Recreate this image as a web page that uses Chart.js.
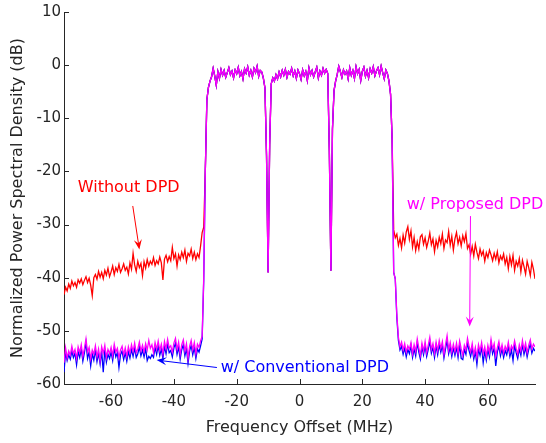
<!DOCTYPE html>
<html lang="en">
<head>
<meta charset="UTF-8">
<title>Normalized Power Spectral Density</title>
<style>
  html, body { margin: 0; padding: 0; background: #fff; }
  canvas { display: block; }
</style>
<script src="https://cdn.jsdelivr.net/npm/chart.js"></script>
</head>
<body>
<canvas id="psdChart" width="546" height="443"></canvas>
<script>
// frequency bins: -75 .. 75 MHz every 0.5 MHz (301 bins)
const freqs = [];
for (let i = -150; i <= 150; i++) freqs.push(i / 2);

const xTickValues = [-60, -40, -20, 0, 20, 40, 60];
const yTickValues = [-60, -50, -40, -30, -20, -10, 0, 10];

// passband -30 .. 29.5 MHz (120 bins), the three curves sit on top of each other here
const bandValues = [
  -20.0, -6.5, -4.2, -3.0, -2.2, -0.6, -2.0, -3.8, -1.2, -2.5,
  -0.8, -1.9, -1.0, -2.3, -1.4, -0.5, -1.8, -1.1, -2.4, -0.9,
  -1.6, -0.4, -2.0, -1.2, -2.6, -0.7, -1.5, -0.3, -1.9, -1.0,
  -2.2, -0.6, -1.4, -0.2, -2.1, -1.0, -1.3, -2.5, -4.3, -17.0,
  -39.0, -15.0, -3.5, -2.4, -3.0, -1.8, -2.6, -1.3, -2.2, -1.0,
  -1.9, -0.8, -2.3, -1.2, -1.7, -0.6, -2.0, -1.1, -2.5, -0.9,
  -1.6, -2.7, -0.9, -2.0, -1.2, -2.9, -0.5, -1.8, -1.0, -2.2,
  -1.3, -0.4, -2.4, -1.1, -1.9, -0.6, -1.5, -0.8, -1.6, -16.0,
  -38.7, -12.0, -4.8, -3.0, -1.8, -0.2, -1.2, -2.3, -0.9, -1.7,
  -1.1, -2.6, -0.5, -1.9, -1.0, -2.5, -0.3, -1.6, -0.8, -2.9,
  -1.2, -0.4, -2.1, -1.0, -2.4, -0.7, -1.5, -0.3, -2.0, -1.1,
  -0.5, -1.8, -0.2, -1.4, -2.6, -0.9, -1.6, -3.0, -5.5, -14.0
];

// lower side -75 .. -30.5 MHz (90 bins)
const redLow = [
  -43.2, -41.8, -42.5, -41.2, -42.0, -40.6, -41.5, -40.9, -41.8, -40.4,
  -41.0, -40.2, -41.3, -40.5, -39.8, -40.9, -40.1, -41.4, -43.4, -40.0,
  -39.4, -40.3, -38.8, -39.9, -39.0, -40.2, -38.6, -39.5, -38.2, -39.8,
  -38.9, -37.8, -39.4, -38.1, -38.8, -37.5, -39.0, -38.3, -37.4, -38.6,
  -38.0, -39.3, -37.2, -38.4, -35.4, -37.6, -38.8, -36.9, -38.1, -37.3,
  -39.6, -37.0, -38.2, -36.6, -37.8, -36.9, -37.5, -36.2, -37.7, -36.8,
  -37.4, -36.1, -37.2, -40.4, -36.5, -35.8, -37.0, -36.0, -36.8, -34.3,
  -36.4, -35.5, -37.8, -35.7, -36.6, -35.2, -36.2, -34.8, -36.9, -35.4,
  -35.9, -34.6, -36.4, -35.2, -36.6, -35.5, -36.2, -34.0, -31.5, -30.5
];
const blueLow = [
  -57.8, -54.0, -55.6, -54.5, -55.3, -53.8, -55.0, -54.2, -56.4, -53.9,
  -55.0, -53.4, -55.7, -54.1, -52.2, -55.2, -54.0, -56.6, -54.3, -55.5,
  -53.6, -55.8, -54.2, -56.2, -53.8, -57.8, -53.5, -55.9, -54.4, -55.2,
  -54.0, -55.6, -53.3, -54.9, -54.1, -56.9, -54.5, -53.8, -55.4, -54.1,
  -55.7, -53.9, -55.1, -53.5, -54.8, -53.2, -55.0, -54.3, -53.0, -54.7,
  -53.6, -54.9, -53.3, -55.6, -54.8, -55.2, -54.5, -55.0, -53.1, -54.4,
  -52.8, -54.6, -53.4, -55.2, -52.9, -54.3, -52.5, -54.1, -53.7, -54.9,
  -53.2, -52.3, -54.4, -53.0, -55.3, -53.5, -52.6, -54.7, -53.3, -56.1,
  -53.8, -52.7, -54.5, -53.1, -55.2, -53.4, -54.0, -52.8, -51.5, -40.5
];
const magentaLow = [
  -56.0, -53.2, -55.1, -53.8, -54.6, -52.9, -54.3, -53.5, -55.2, -53.0,
  -54.1, -52.6, -54.8, -53.3, -51.5, -54.0, -53.1, -55.3, -53.6, -54.4,
  -52.8, -54.9, -53.4, -55.6, -53.0, -54.2, -52.7, -55.0, -53.5, -54.3,
  -53.1, -54.7, -52.5, -54.0, -53.3, -55.1, -53.6, -52.9, -54.5, -53.2,
  -54.8, -53.0, -54.2, -52.6, -53.9, -52.3, -54.1, -53.4, -52.1, -53.8,
  -52.7, -54.0, -52.4, -53.6, -51.8, -53.3, -52.6, -54.1, -52.2, -53.5,
  -51.9, -53.7, -52.5, -54.3, -52.0, -53.4, -51.6, -53.2, -52.8, -54.0,
  -52.3, -51.4, -53.5, -52.1, -54.4, -52.6, -51.7, -53.8, -52.4, -55.2,
  -52.9, -51.8, -53.6, -52.2, -54.3, -52.5, -53.1, -51.9, -51.0, -40.0
];

// upper side 30 .. 75 MHz (91 bins)
const redHigh = [
  -31.0, -32.5, -31.8, -33.9, -32.6, -34.4, -32.0, -33.5, -31.4, -30.4,
  -32.8, -31.2, -34.2, -32.4, -34.9, -33.2, -34.6, -32.3, -31.9, -33.7,
  -32.5, -34.3, -33.1, -31.6, -33.8, -32.7, -35.1, -33.0, -34.2, -32.4,
  -33.6, -31.8, -34.5, -32.9, -33.4, -31.3, -33.9, -32.2, -34.8, -32.7,
  -31.5, -33.6, -32.4, -34.0, -32.1, -33.2, -31.7, -34.5, -33.8, -35.6,
  -34.1, -35.9, -33.7, -35.2, -36.4, -34.6, -35.8, -35.0, -36.9, -35.3,
  -36.2, -34.8, -35.7, -36.8, -35.4, -36.5, -35.1, -37.2, -35.9, -36.6,
  -35.5, -37.4, -36.2, -38.3, -36.0, -37.6, -35.8, -38.6, -36.9, -37.8,
  -36.4, -38.9, -36.7, -37.9, -39.3, -36.9, -38.1, -39.6, -37.1, -38.4,
  -40.2
];
const blueHigh = [
  -39.0, -40.2, -47.5, -51.8, -53.6, -52.9, -54.4, -53.2, -54.9, -53.5,
  -54.3, -52.8, -55.0, -53.4, -54.7, -52.2, -54.0, -55.3, -53.0, -54.5,
  -52.8, -54.8, -53.5, -52.0, -54.2, -53.1, -55.0, -52.8, -54.5, -52.6,
  -54.0, -52.7, -55.1, -53.4, -51.8, -54.3, -53.0, -54.8, -53.2, -54.6,
  -53.1, -55.0, -52.6, -55.2, -55.4, -53.5, -54.4, -52.2, -53.7, -54.8,
  -53.2, -55.3, -53.9, -56.3, -53.4, -54.6, -53.0, -56.0, -53.8, -55.5,
  -53.5, -54.9, -52.4, -54.3, -53.2, -56.6, -54.0, -52.8, -54.7, -53.4,
  -55.0, -53.7, -54.5, -52.9, -54.8, -53.6, -55.6, -52.7, -54.1, -55.2,
  -53.4, -54.6, -52.6, -54.4, -53.1, -54.9, -53.5, -52.5, -54.2, -53.3,
  -53.8
];
const magentaHigh = [
  -39.0, -40.2, -47.0, -51.2, -53.0, -52.1, -53.6, -52.4, -54.0, -52.8,
  -53.5, -52.2, -54.3, -52.6, -53.9, -51.5, -53.2, -54.6, -52.3, -53.8,
  -52.0, -54.1, -52.7, -51.2, -53.5, -52.4, -54.2, -52.1, -53.7, -51.8,
  -53.3, -52.0, -54.4, -52.6, -50.9, -53.6, -52.2, -54.0, -52.5, -53.9,
  -52.3, -54.2, -51.9, -53.4, -54.6, -52.7, -53.6, -51.4, -52.9, -54.0,
  -52.4, -54.5, -53.1, -55.0, -52.6, -53.8, -52.2, -54.3, -53.0, -54.8,
  -52.7, -54.1, -51.6, -53.5, -52.4, -54.7, -53.2, -52.0, -53.9, -52.6,
  -54.2, -52.9, -53.7, -52.1, -54.0, -52.8, -53.5, -51.9, -53.3, -54.4,
  -52.6, -53.8, -51.8, -53.6, -52.3, -54.1, -52.7, -51.7, -53.4, -52.5,
  -53.0
];

const redValues = [...redLow, ...bandValues, ...redHigh];
const blueValues = [...blueLow, ...bandValues, ...blueHigh];
const magentaValues = [...magentaLow, ...bandValues, ...magentaHigh];

function toPoints(values) {
  return values.map((v, i) => ({ x: freqs[i], y: v }));
}

// text labels with arrows, in data units (MHz, dB)
const notes = [
  { text: 'Without DPD', color: '#ff0000', x: -54.4, y: -23.0, from: [-53.1, -26.5], to: [-51.0, -34.7] },
  { text: 'w/ Proposed DPD', color: '#ff00ff', x: 55.9, y: -26.2, from: [54.45, -28.4], to: [54.2, -49.2] },
  { text: 'w/ Conventional DPD', color: '#0000ff', x: 1.7, y: -56.9, from: [-26.3, -56.9], to: [-45.5, -55.5] }
];

const fontFamily = "'DejaVu Sans', Verdana, sans-serif";
const axisColor = '#262626';

// white background + inward tick marks
const backgroundPlugin = {
  id: 'backgroundPlugin',
  beforeDraw(chart) {
    const ctx = chart.ctx;
    ctx.save();
    ctx.fillStyle = '#fff';
    ctx.fillRect(0, 0, chart.width, chart.height);
    ctx.restore();
  },
  beforeDatasetsDraw(chart) {
    const { ctx, chartArea, scales } = chart;
    ctx.save();
    ctx.strokeStyle = axisColor;
    ctx.lineWidth = 1;
    ctx.beginPath();
    scales.x.ticks.forEach(t => {
      const px = Math.round(scales.x.getPixelForValue(t.value)) + 0.5;
      ctx.moveTo(px, chartArea.bottom);
      ctx.lineTo(px, chartArea.bottom - 5);
    });
    scales.y.ticks.forEach(t => {
      const py = Math.round(scales.y.getPixelForValue(t.value)) + 0.5;
      ctx.moveTo(chartArea.left, py);
      ctx.lineTo(chartArea.left + 5, py);
    });
    ctx.stroke();
    ctx.restore();
  }
};

const notesPlugin = {
  id: 'notesPlugin',
  afterDatasetsDraw(chart) {
    const { ctx, scales } = chart;
    ctx.save();
    ctx.font = '16px ' + fontFamily;
    ctx.textAlign = 'center';
    ctx.textBaseline = 'middle';
    notes.forEach(n => {
      ctx.fillStyle = n.color;
      ctx.fillText(n.text, scales.x.getPixelForValue(n.x), scales.y.getPixelForValue(n.y));

      const x1 = scales.x.getPixelForValue(n.from[0]);
      const y1 = scales.y.getPixelForValue(n.from[1]);
      const x2 = scales.x.getPixelForValue(n.to[0]);
      const y2 = scales.y.getPixelForValue(n.to[1]);
      const ang = Math.atan2(y2 - y1, x2 - x1);
      const headLen = 10, headW = 4;
      ctx.strokeStyle = n.color;
      ctx.lineWidth = 1;
      ctx.beginPath();
      ctx.moveTo(x1, y1);
      ctx.lineTo(x2 - Math.cos(ang) * headLen * 0.5, y2 - Math.sin(ang) * headLen * 0.5);
      ctx.stroke();
      ctx.beginPath();
      ctx.moveTo(x2, y2);
      ctx.lineTo(x2 - Math.cos(ang) * headLen - Math.sin(ang) * headW, y2 - Math.sin(ang) * headLen + Math.cos(ang) * headW);
      ctx.lineTo(x2 - Math.cos(ang) * headLen * 0.6, y2 - Math.sin(ang) * headLen * 0.6);
      ctx.lineTo(x2 - Math.cos(ang) * headLen + Math.sin(ang) * headW, y2 - Math.sin(ang) * headLen - Math.cos(ang) * headW);
      ctx.closePath();
      ctx.fill();
    });
    ctx.restore();
  }
};

const lineStyle = { borderWidth: 1.3, pointRadius: 0, tension: 0, fill: false };

new Chart(document.getElementById('psdChart'), {
  type: 'line',
  data: {
    datasets: [
      { label: 'w/ Proposed DPD', data: toPoints(magentaValues), borderColor: '#ff00ff', order: 0, ...lineStyle },
      { label: 'w/ Conventional DPD', data: toPoints(blueValues), borderColor: '#0000ff', order: 1, ...lineStyle },
      { label: 'Without DPD', data: toPoints(redValues), borderColor: '#ff0000', order: 2, ...lineStyle }
    ]
  },
  options: {
    responsive: false,
    animation: false,
    layout: { padding: { left: 0, right: 11, top: 12, bottom: 0 } },
    plugins: {
      legend: { display: false },
      tooltip: { enabled: false }
    },
    scales: {
      x: {
        type: 'linear',
        min: -75,
        max: 75,
        afterBuildTicks: s => { s.ticks = xTickValues.map(v => ({ value: v })); },
        afterFit: s => { s.height = 59; },
        grid: { drawOnChartArea: false, drawTicks: false },
        border: { display: true, color: axisColor, width: 1 },
        ticks: { color: axisColor, padding: 9, font: { family: fontFamily, size: 15 } },
        title: {
          display: true,
          text: 'Frequency Offset (MHz)',
          color: axisColor,
          padding: { top: 0, bottom: 6 },
          font: { family: fontFamily, size: 16 }
        }
      },
      y: {
        type: 'linear',
        min: -60,
        max: 10,
        afterBuildTicks: s => { s.ticks = yTickValues.map(v => ({ value: v })); },
        afterFit: s => { s.width = 64; },
        grid: { drawOnChartArea: false, drawTicks: false },
        border: { display: true, color: axisColor, width: 1 },
        ticks: { color: axisColor, padding: 3, font: { family: fontFamily, size: 15 } },
        title: {
          display: true,
          text: 'Normalized Power Spectral Density (dB)',
          color: axisColor,
          padding: { top: 8, bottom: 0 },
          font: { family: fontFamily, size: 16 }
        }
      }
    }
  },
  plugins: [backgroundPlugin, notesPlugin]
});
</script>
</body>
</html>
